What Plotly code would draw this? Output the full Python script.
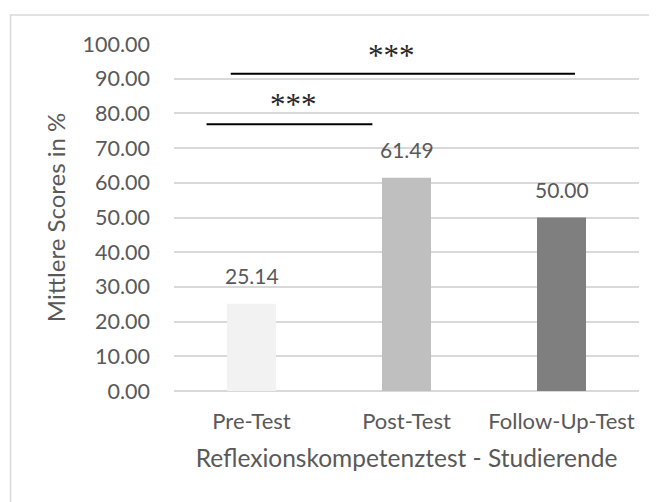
import plotly.graph_objects as go

categories = ["Pre-Test", "Post-Test", "Follow-Up-Test"]
scores = [25.14, 61.49, 50.00]
bar_colors = ["#f2f2f2", "#bfbfbf", "#7f7f7f"]
y_ticks = [0, 10, 20, 30, 40, 50, 60, 70, 80, 90, 100]

# significance brackets
sig_x0 = [-0.29, -0.134]
sig_x1 = [0.78, 2.087]
sig_y = [76.9, 91.4]
sig_label_x = [0.27, 0.90]
sig_label_y = [82.7, 96.8]
sig_labels = ["***", "***"]

TXT = "#595959"
FONT = "Lato"

fig = go.Figure()
fig.add_trace(go.Bar(
    x=categories, y=scores, marker=dict(color=bar_colors, line=dict(width=0)),
    width=0.316, hoverinfo="skip",
))

for c, v in zip(categories, scores):
    fig.add_annotation(x=c, y=v, text=f"{v:.2f}", showarrow=False,
                       yanchor="bottom", yshift=14,
                       font=dict(family=FONT, size=21, color=TXT))

for x0, x1, y in zip(sig_x0, sig_x1, sig_y):
    fig.add_shape(type="line", xref="x", yref="y", x0=x0, x1=x1, y0=y, y1=y,
                  line=dict(color="black", width=2))
for lx, ly, t in zip(sig_label_x, sig_label_y, sig_labels):
    fig.add_annotation(x=lx, y=ly, text=t, showarrow=False,
                       font=dict(family="Liberation Serif", size=31, color="#262626"))

# outer chart border
fig.add_shape(type="rect", xref="paper", yref="paper",
              x0=-0.3516, x1=1.3, y0=-0.5, y1=1.0836,
              line=dict(color="#d9d9d9", width=1.5), fillcolor="rgba(0,0,0,0)", layer="below")

fig.update_layout(
    width=657, height=502,
    margin=dict(l=166, r=26, t=36, b=119),
    paper_bgcolor="white", plot_bgcolor="white",
    showlegend=False,
    font=dict(family=FONT, size=20, color=TXT),
    xaxis=dict(
        title=dict(text="Reflexionskompetenztest - Studierende", standoff=16,
                   font=dict(family=FONT, size=24.5, color=TXT)),
        showgrid=False, showline=False, ticks="", ticklabelstandoff=15,
        tickfont=dict(family=FONT, size=22, color=TXT),
    ),
    yaxis=dict(
        title=dict(text="Mittlere Scores in %", standoff=10,
                   font=dict(family=FONT, size=24, color=TXT)),
        range=[0, 100], tickvals=y_ticks, tickformat=".2f",
        showgrid=True, gridcolor="#d9d9d9", gridwidth=1.5,
        zeroline=True, zerolinecolor="#d9d9d9", zerolinewidth=1.5,
        showline=False, ticks="", ticklabelstandoff=23,
        tickfont=dict(family=FONT, size=21.5, color=TXT),
    ),
)

fig.write_html("out.html")
